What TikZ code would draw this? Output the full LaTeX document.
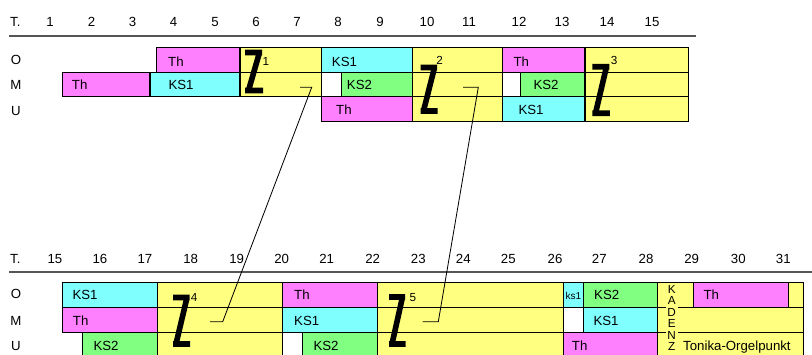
\documentclass[tikz,border=0pt]{standalone}
\usepackage{fontspec}
\setmainfont{Liberation Sans}
\usetikzlibrary{positioning}
\definecolor{thpink}{RGB}{255,128,255}
\definecolor{kscyan}{RGB}{128,255,255}
\definecolor{ksgreen}{RGB}{128,255,128}
\definecolor{zyellow}{RGB}{255,255,128}
\definecolor{rulegray}{RGB}{85,85,85}

\tikzset{
  cell/.style={draw=black, line width=0.9pt},
  lbl/.style={font=\fontsize{11.3}{13}\selectfont, inner sep=0pt, text height=8.1pt, text depth=0pt},
  sup/.style={font=\fontsize{10}{11}\selectfont, inner sep=0pt},
  zline/.style={line width=4.8pt},
  rule/.style={draw=rulegray, line width=1.6pt},
  link/.style={draw=black, line width=0.7pt}
}

\begin{document}
\begin{tikzpicture}[x=0.03cm, y=-0.03cm]
    \useasboundingbox (0,0) rectangle (812,354);
    \clip (0,0) rectangle (812,354);

    % bar numbers, first system
    \node[lbl, anchor=west] (tA) at (10,22) {T.};
    \foreach \n/\x in {1/50,2/91.5,3/132.5,4/173.5,5/215,6/256,7/297,8/338,9/380,10/427,11/469,12/519,13/562,14/607,15/652}
        \node[lbl] (tA\n) at (\x,22) {\n};
    \draw[rule] (9,36) -- (696,36);
    \node[lbl] (oA) at (16,59.5) {O};
    \node[lbl] (mA) at (16,85) {M};
    \node[lbl] (uA) at (16,110.5) {U};

    % cells, first system
    \foreach \a/\b/\y/\c in {156.7/240/47.3/thpink, 240/321.7/47.3/zyellow, 321.7/412.3/47.3/kscyan, 412.3/502.7/47.3/zyellow, 502.7/585/47.3/thpink, 585/688.3/47.3/zyellow,
        62.3/150/72.1/thpink, 150/240/72.1/kscyan, 240/321.7/72.1/zyellow, 321.7/341.7/72.1/white, 341.7/412.3/72.1/ksgreen, 412.3/502.7/72.1/zyellow, 502.7/520.7/72.1/white, 520.7/585/72.1/ksgreen, 585/688.3/72.1/zyellow,
        321.7/412.3/96.9/thpink, 412.3/502.7/96.9/zyellow, 502.7/585/96.9/kscyan, 585/688.3/96.9/zyellow}
        \draw[cell, fill=\c] (\a,\y) rectangle (\b,\y+24.8);

    \node[lbl, anchor=west] (thA1) at (168,61.5) {Th};
    \node[lbl, anchor=west] (thA2) at (71.7,85) {Th};
    \node[lbl, anchor=west] (ksA1) at (168.3,85) {KS1};
    \node[lbl, anchor=west] (ksA2) at (331.7,61.5) {KS1};
    \node[lbl, anchor=west] (ksA3) at (346.7,85) {KS2};
    \node[lbl, anchor=west] (thA3) at (336,110) {Th};
    \node[lbl, anchor=west] (thA4) at (513.3,61.5) {Th};
    \node[lbl, anchor=west] (ksA4) at (533.3,85) {KS2};
    \node[lbl, anchor=west] (ksA5) at (518.3,110) {KS1};

    % Z signs, first system
    \draw[zline] (245,52.5) -- (262,52.5) (259.5,52.5) -- (248.5,90.5) (245,90.5) -- (263,90.5);
    \node[sup] (z1) at (266,61) {1};
    \draw[zline] (420.7,67.5) -- (437,67.5) (434.5,67.5) -- (423.5,111) (420.7,111) -- (437.5,111);
    \node[sup] (z2) at (439.7,60.5) {2};
    \draw[zline] (592.3,66.7) -- (609.3,66.7) (606.5,66.7) -- (595.5,113.3) (592.3,113.3) -- (609.8,113.3);
    \node[sup] (z3) at (614,60) {3};

    % bar numbers, second system
    \node[lbl, anchor=west] (tB) at (10,258.5) {T.};
    \foreach \n/\x in {15/55,16/100,17/145,18/190.7,19/236.7,20/281.7,21/326.7,22/372.7,23/418.3,24/463.3,25/508.3,26/555,27/599.3,28/646,29/691.7,30/738.3,31/783.3}
        \node[lbl] (tB\n) at (\x,258.5) {\n};
    \draw[rule] (9,271.7) -- (812,271.7);
    \node[lbl] (oB) at (16,293.5) {O};
    \node[lbl] (mB) at (16,320.5) {M};
    \node[lbl] (uB) at (16,346) {U};

    % cells, second system
    \foreach \a/\b/\y/\c in {62.3/157.3/282.7/kscyan, 157.3/282.7/282.7/zyellow, 282.7/377.7/282.7/thpink, 377.7/563.3/282.7/zyellow, 563.3/583.3/282.7/kscyan, 583.3/657.3/282.7/ksgreen, 657.3/693.3/282.7/zyellow, 693.3/788.3/282.7/thpink, 788.3/803.3/282.7/zyellow,
        62.3/157.3/307.7/thpink, 157.3/282.7/307.7/zyellow, 282.7/377.7/307.7/kscyan, 377.7/563.3/307.7/zyellow, 563.3/583.3/307.7/white, 583.3/657.3/307.7/kscyan, 657.3/803.3/307.7/zyellow,
        82.7/157.3/332.7/ksgreen, 157.3/282.7/332.7/zyellow, 282.7/302.7/332.7/white, 302.7/377.7/332.7/ksgreen, 377.7/563.3/332.7/zyellow, 563.3/657.3/332.7/thpink, 657.3/803.3/332.7/zyellow}
        \draw[cell, fill=\c] (\a,\y) rectangle (\b,\y+25);

    \node[lbl, anchor=west] (ksB1) at (72.3,295) {KS1};
    \node[lbl, anchor=west] (thB1) at (72.7,320.5) {Th};
    \node[lbl, anchor=west] (ksB2) at (93.3,345.5) {KS2};
    \node[lbl, anchor=west] (thB2) at (294,295) {Th};
    \node[lbl, anchor=west] (ksB3) at (294,320.5) {KS1};
    \node[lbl, anchor=west] (ksB4) at (313.3,345.5) {KS2};
    \node[font=\fontsize{8.5}{10}\selectfont, inner sep=0pt] (ksB5) at (573.3,295.5) {ks1};
    \node[lbl, anchor=west] (ksB6) at (594,295) {KS2};
    \node[lbl, anchor=west] (ksB7) at (593.3,320.5) {KS1};
    \node[lbl, anchor=west] (thB3) at (571.7,345.5) {Th};
    \node[lbl, anchor=west] (thB4) at (703.3,295) {Th};
    \node[lbl, anchor=west] (tonika) at (683,345.5) {Tonika-Orgelpunkt};
    \node[fill=zyellow, inner xsep=1.5pt, inner ysep=0.3pt, anchor=north, align=center,
          font=\fontsize{10}{9.8}\selectfont] (kadenz) at (671.7,284.8) {K\\A\\D\\E\\N\\Z};

    % Z signs, second system
    \draw[zline] (173,297.5) -- (189.5,297.5) (187,297.5) -- (176,344) (173,344) -- (190,344);
    \node[sup] (z4) at (194.2,297.8) {4};
    \draw[zline] (389,297) -- (405,297) (402.5,297) -- (392,344) (389,344) -- (405.5,344);
    \node[sup] (z5) at (413,297.5) {5};

    % links between the Z signs
    \coordinate (l1a) at (300,87.3);
    \coordinate (l1b) at (311.7,87.3);
    \coordinate (l1c) at (222.7,321.7);
    \coordinate (l1d) at (210,321.7);
    \draw[link] (l1a) -- (l1b) -- (l1c) -- (l1d);
    \coordinate (l2a) at (463,87.3);
    \coordinate (l2b) at (478.3,87.3);
    \coordinate (l2c) at (438.3,321.7);
    \coordinate (l2d) at (422.7,321.7);
    \draw[link] (l2a) -- (l2b) -- (l2c) -- (l2d);
\end{tikzpicture}
\end{document}
